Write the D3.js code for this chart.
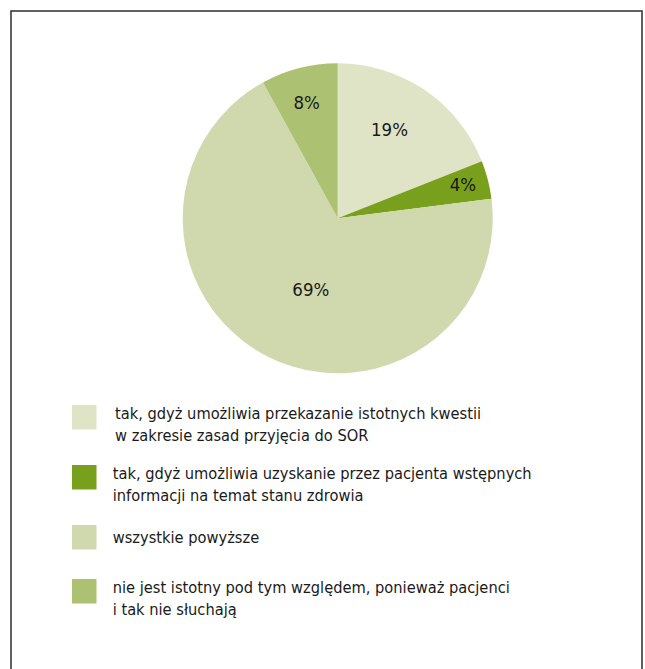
<!DOCTYPE html>
<html>
<head>
<meta charset="utf-8">
<script src="https://cdn.jsdelivr.net/npm/d3@7"></script>
<style>
  html, body { margin: 0; padding: 0; background: #fff; }
  svg { display: block; }
  text { font-family: "Liberation Sans Narrow", "DejaVu Sans Condensed", "Open Sans", sans-serif; fill: #1a1a1a; }
</style>
</head>
<body>
<svg id="chart" width="645" height="669"></svg>
<script>
// Survey answers, in clockwise order from 12 o'clock
const categories = [
  "tak, gdyż umożliwia przekazanie istotnych kwestii\nw zakresie zasad przyjęcia do SOR",
  "tak, gdyż umożliwia uzyskanie przez pacjenta wstępnych\ninformacji na temat stanu zdrowia",
  "wszystkie powyższe",
  "nie jest istotny pod tym względem, ponieważ pacjenci\ni tak nie słuchają"
];
const values = [19, 4, 69, 8];
const colors = ["#dfe4c6", "#78a01c", "#cfd9ad", "#adc173"];

const svg = d3.select("#chart");
const W = 645, H = 669;

// frame around the figure
svg.append("rect")
  .attr("x", 11).attr("y", 11)
  .attr("width", 631).attr("height", H + 10)
  .attr("fill", "none")
  .attr("stroke", "#3a3a3a")
  .attr("stroke-width", 1.6);

const data = categories.map((c, i) => ({ label: c, value: values[i], color: colors[i] }));

const cx = 337.7, cy = 218.3, r = 155;
const pie = d3.pie().value(d => d.value).sort(null);
const arc = d3.arc().innerRadius(0).outerRadius(r);
const arcs = pie(data);

const g = svg.append("g").attr("transform", `translate(${cx},${cy})`);
g.selectAll("path.slice")
  .data(arcs)
  .join("path")
  .attr("class", "slice")
  .attr("d", arc)
  .attr("fill", d => d.data.color)
  .attr("stroke", "none");

// percentage labels: radius fraction and angular nudge (degrees) per slice
const labelRadius = [0.666, 0.838, 0.488, 0.773];
const labelNudge = [-4.1, -0.9, -6.2, -0.6];
g.selectAll("text.pct")
  .data(arcs)
  .join("text")
  .attr("class", "pct")
  .attr("text-anchor", "middle")
  .attr("font-size", 18.5)
  .attr("transform", (d, i) => {
    const a = (d.startAngle + d.endAngle) / 2 + labelNudge[i] * Math.PI / 180;
    const rr = r * labelRadius[i];
    return `translate(${Math.sin(a) * rr},${-Math.cos(a) * rr + 6.7})`;
  })
  .text(d => d.data.value + "%");

// legend
const legendTops = [405, 465, 525, 579];
const legend = svg.append("g");
data.forEach((d, i) => {
  const item = legend.append("g").attr("transform", `translate(72,${legendTops[i]})`);
  item.append("rect")
    .attr("width", 24.5).attr("height", 24.5)
    .attr("fill", d.color);
  const lines = d.label.split("\n");
  const firstBaseline = lines.length === 1 ? 18.3 : 13.5;
  const tx = i === 0 ? 43 : 40.7;
  const t = item.append("text")
    .attr("x", tx)
    .attr("y", firstBaseline)
    .attr("font-size", 16.3);
  lines.forEach((ln, k) => {
    t.append("tspan")
      .attr("x", tx)
      .attr("dy", k === 0 ? 0 : 22)
      .text(ln);
  });
});
</script>
</body>
</html>
